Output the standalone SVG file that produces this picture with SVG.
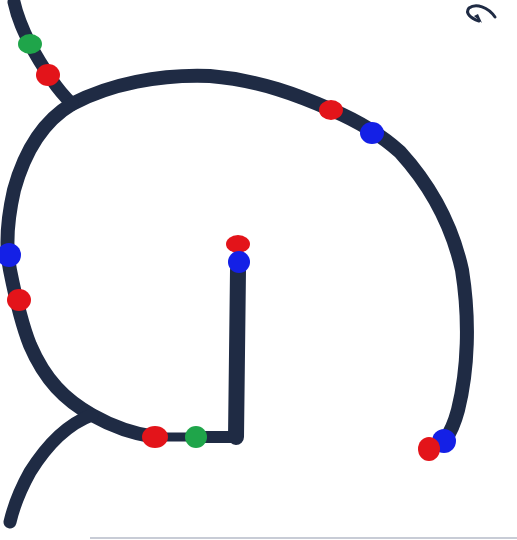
<svg xmlns="http://www.w3.org/2000/svg" width="517" height="540" viewBox="0 0 517 540">
<style>
.w{fill:none;stroke:#1f2b44;stroke-linecap:round;stroke-linejoin:round}
.r{fill:#e3141a}.b{fill:#1420e6}.g{fill:#1fa54a}
</style>
<rect width="517" height="540" fill="#fff"/>
<g id="connectors">
<path class="w" stroke-width="13" d="M14,2 C18,20 24,32 30,44 C38,60 45,70 52,80 C60,92 66,98 72,104"/>
<path class="w" stroke-width="14" d="M72,104 C110,84 160,74 210,76 C260,80 300,96 332,110 C360,122 380,134 400,152 C430,185 452,225 462,270 C470,320 468,370 458,410 C454,425 450,433 445,440"/>
<path class="w" stroke-width="14" d="M72,104 C45,120 25,150 14,190 C6,225 6,250 10,270 C14,290 20,320 30,345 C45,380 65,400 92,415 C115,428 135,434 155,437"/>
<path class="w" stroke-width="9" d="M155,437 L196,437"/>
<path class="w" stroke-width="12" d="M196,437 L236,437"/>
<path class="w" stroke-width="16" d="M236,437 L238,270"/>
<path class="w" stroke-width="13" d="M92,415 C65,425 45,448 30,472 C20,490 14,505 10,522"/>
<path class="w" stroke-width="3" d="M495,17 C488,7 476,3 469,8 C465,13 470,18 479,21"/>
<path fill="#1f2b44" d="M474,16 L482,23 L478,14 Z"/>
</g>
<g id="n_green_top"><ellipse class="g" cx="30" cy="44" rx="12" ry="10"/></g>
<g id="n_red_top"><ellipse class="r" cx="48" cy="75" rx="12" ry="11"/></g>
<g id="n_red_arc"><ellipse class="r" cx="331" cy="110" rx="12" ry="10"/></g>
<g id="n_blue_arc"><ellipse class="b" cx="372" cy="133" rx="12" ry="11"/></g>
<g id="n_blue_left"><ellipse class="b" cx="9" cy="255" rx="12" ry="12"/></g>
<g id="n_red_left"><ellipse class="r" cx="19" cy="300" rx="12" ry="11"/></g>
<g id="n_red_mid"><ellipse class="r" cx="238" cy="244" rx="12" ry="9"/></g>
<g id="n_blue_mid"><ellipse class="b" cx="239" cy="262" rx="11" ry="11"/></g>
<g id="n_red_bottom"><ellipse class="r" cx="155" cy="437" rx="13" ry="11"/></g>
<g id="n_green_bottom"><ellipse class="g" cx="196" cy="437" rx="11" ry="11"/></g>
<g id="n_blue_end"><ellipse class="b" cx="444" cy="441" rx="12" ry="12"/></g>
<g id="n_red_end"><ellipse class="r" cx="429" cy="449" rx="11" ry="12"/></g>
<line x1="90" y1="538" x2="517" y2="538" stroke="#c8ccd6" stroke-width="2"/>
</svg>
